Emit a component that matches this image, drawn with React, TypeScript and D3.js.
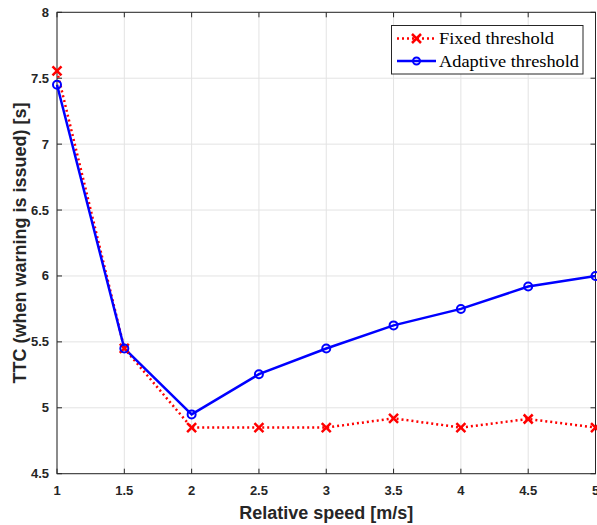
import React from "react";
import * as d3 from "d3";

const speeds = [1, 1.5, 2, 2.5, 3, 3.5, 4, 4.5, 5];
const fixedTTC = [7.555, 5.45, 4.85, 4.85, 4.85, 4.92, 4.85, 4.915, 4.85];
const adaptiveTTC = [7.45, 5.45, 4.95, 5.255, 5.45, 5.625, 5.75, 5.92, 6.0];
const xTicks = [1, 1.5, 2, 2.5, 3, 3.5, 4, 4.5, 5];
const yTicks = [4.5, 5, 5.5, 6, 6.5, 7, 7.5, 8];
const xTickLabels = ["1", "1.5", "2", "2.5", "3", "3.5", "4", "4.5", "5"];
const yTickLabels = ["4.5", "5", "5.5", "6", "6.5", "7", "7.5", "8"];

const L = 57, R = 595.5, T = 12.3, B = 473.7;

export default function App() {
  const x = d3.scaleLinear().domain([1, 5]).range([L, R]);
  const y = d3.scaleLinear().domain([4.5, 8]).range([B, T]);
  const line = d3.line<number>().x((_, i) => x(speeds[i])).y((d) => y(d));
  const axisColor = "#262626";
  const tickFont = "'Liberation Sans', Arial, sans-serif";
  const serif = "'Liberation Serif', 'Times New Roman', serif";
  const tl = 5;
  return (
    <svg width={597} height={525} style={{ position: "absolute", left: 0, top: 0 }}>
      <rect x={0} y={0} width={597} height={525} fill="#fff" />
      {xTicks.map((t) => (
        <line key={"gx" + t} x1={x(t)} x2={x(t)} y1={T} y2={B} stroke="#e3e3e3" strokeWidth={1} />
      ))}
      {yTicks.map((t) => (
        <line key={"gy" + t} x1={L} x2={R} y1={y(t)} y2={y(t)} stroke="#e3e3e3" strokeWidth={1} />
      ))}
      {xTicks.map((t) => (
        <g key={"tx" + t}>
          <line x1={x(t)} x2={x(t)} y1={B} y2={B - tl} stroke={axisColor} />
          <line x1={x(t)} x2={x(t)} y1={T} y2={T + tl} stroke={axisColor} />
        </g>
      ))}
      {yTicks.map((t) => (
        <g key={"ty" + t}>
          <line x1={L} x2={L + tl} y1={y(t)} y2={y(t)} stroke={axisColor} />
          <line x1={R} x2={R - tl} y1={y(t)} y2={y(t)} stroke={axisColor} />
        </g>
      ))}
      <rect x={L} y={T} width={R - L} height={B - T} fill="none" stroke={axisColor} strokeWidth={1} />
      {xTicks.map((t, i) => (
        <text key={"lx" + t} x={x(t)} y={495} textAnchor="middle" fontFamily={tickFont} fontWeight="bold" fontSize={13} fill={axisColor}>
          {xTickLabels[i]}
        </text>
      ))}
      {yTicks.map((t, i) => (
        <text key={"ly" + t} x={49} y={y(t) + 4.5} textAnchor="end" fontFamily={tickFont} fontWeight="bold" fontSize={13} fill={axisColor}>
          {yTickLabels[i]}
        </text>
      ))}
      <text x={(L + R) / 2} y={519} textAnchor="middle" fontFamily={tickFont} fontWeight="bold" fontSize={18} fill={axisColor}>
        Relative speed [m/s]
      </text>
      <text transform={`translate(26, ${(T + B) / 2}) rotate(-90)`} textAnchor="middle" fontFamily={tickFont} fontWeight="bold" fontSize={18} fill={axisColor}>
        TTC (when warning is issued) [s]
      </text>
      <path d={line(fixedTTC) || ""} fill="none" stroke="#ff0000" strokeWidth={2.5} strokeDasharray="2 3" />
      <path d={line(adaptiveTTC) || ""} fill="none" stroke="#0000ff" strokeWidth={2.5} />
      {fixedTTC.map((v, i) => {
        const cx = x(speeds[i]), cy = y(v), s = 4.5;
        return (
          <path key={"fm" + i} d={`M${cx - s},${cy - s}L${cx + s},${cy + s}M${cx - s},${cy + s}L${cx + s},${cy - s}`} stroke="#ff0000" strokeWidth={2.5} fill="none" />
        );
      })}
      {adaptiveTTC.map((v, i) => (
        <circle key={"am" + i} cx={x(speeds[i])} cy={y(v)} r={4} fill="none" stroke="#0000ff" strokeWidth={2} />
      ))}
      <g>
        <rect x={391.5} y={25.5} width={191.5} height={48.5} fill="#fff" stroke={axisColor} strokeWidth={1} />
        <line x1={397} x2={436} y1={38.5} y2={38.5} stroke="#ff0000" strokeWidth={2.5} strokeDasharray="2 3" />
        <path d={`M${416.5 - 4.5},${38.5 - 4.5}L${416.5 + 4.5},${38.5 + 4.5}M${416.5 - 4.5},${38.5 + 4.5}L${416.5 + 4.5},${38.5 - 4.5}`} stroke="#ff0000" strokeWidth={2.5} />
        <text x={439} y={44} fontFamily={serif} fontSize={17} textLength={115} lengthAdjust="spacingAndGlyphs" fill="#000">Fixed threshold</text>
        <line x1={397} x2={436} y1={61} y2={61} stroke="#0000ff" strokeWidth={2.5} />
        <circle cx={416.5} cy={61} r={3.5} fill="none" stroke="#0000ff" strokeWidth={2} />
        <text x={439} y={66.5} fontFamily={serif} fontSize={17} textLength={140} lengthAdjust="spacingAndGlyphs" fill="#000">Adaptive threshold</text>
      </g>
    </svg>
  );
}
